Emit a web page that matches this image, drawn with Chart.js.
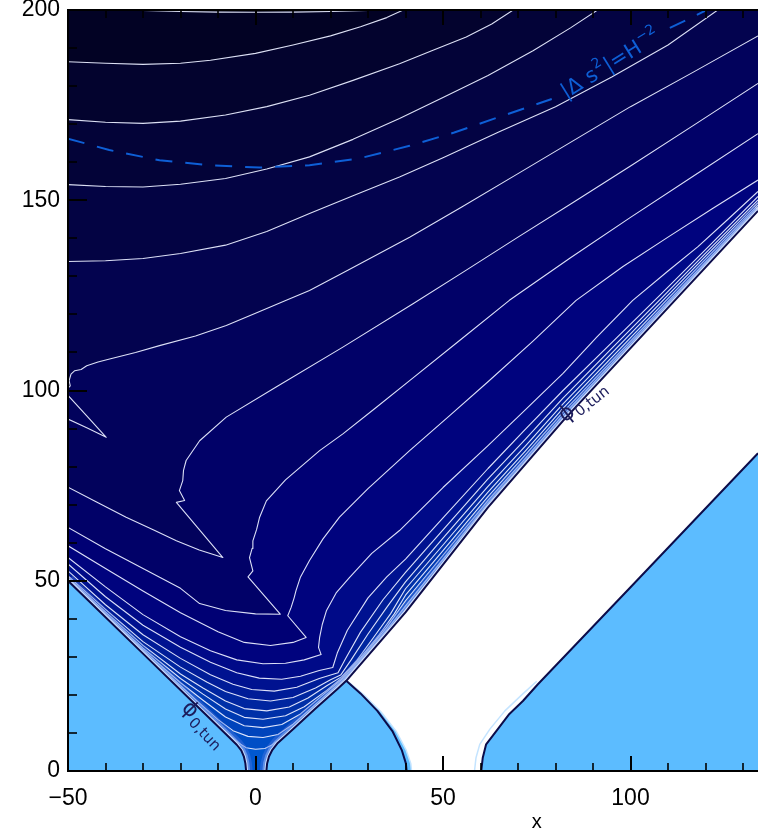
<!DOCTYPE html>
<html>
<head>
<meta charset="utf-8">
<script src="https://cdn.jsdelivr.net/npm/chart.js@4.4.1/dist/chart.umd.min.js"></script>
<style>
  html, body { margin: 0; padding: 0; background: #fff; }
</style>
</head>
<body>
<canvas id="contour" width="758" height="831"></canvas>
<script>
// ---------- axes ----------
const xMin = -50, xMax = 134, yMin = 0, yMax = 200;
const xMajorTicks = [-50, 0, 50, 100];
const xMinorTicks = [-40, -30, -20, -10, 10, 20, 30, 40, 60, 70, 80, 90, 110, 120, 130];
const yMajorTicks = [0, 50, 100, 150, 200];
const yMinorTicks = [10, 20, 30, 40, 60, 70, 80, 90, 110, 120, 130, 140, 160, 170, 180, 190];

// ---------- contour lines, [x, y] ----------
const c1 = [[-41,200.5],[-30,199.9],[-20,199.6],[-10,199.45],[0,199.4],[10,199.45],[20,199.6],[30,199.9],[41,200.5]];
const c2 = [[-50,186.4],[-40,186],[-30,185.7],[-20,186],[-12,186.8],[0,188.6],[10,190.8],[20,193.2],[28,195.6],[35,198],[40.5,200.5]];
const c3 = [[-50,171.2],[-40,170.5],[-30,170.2],[-20,170.8],[-8,172.4],[3,174.6],[14.4,177.6],[26,181.5],[38.4,185.9],[47,189.3],[56.2,192.9],[63,196.3],[69.5,200.5]];
const c4 = [[-50,154.1],[-40,153.6],[-30,153.5],[-20,154.2],[-8,155.7],[3,158.2],[14.4,161.4],[26,166],[38.4,171.5],[50,177],[62,182.8],[74,189.3],[84,195.3],[92,200.5]];
const c5 = [[-50,133.9],[-40,134.1],[-30,134.7],[-20,136],[-8,138.2],[3,141.8],[14.4,146.5],[26,151.2],[38.4,156.1],[50,161.2],[65,168],[80,174.6],[95,182.4],[110,190.8],[124,200.5]];
const c6 = [[-50,100.6],[-49.4,101.2],[-49.7,102.6],[-49.2,104.3],[-48.2,105.2],[-46.5,105.5],[-45,106.5],[-42,107.5],[-38.9,108.3],[-32,110],[-25.6,111.8],[-16,114.3],[-7.8,117.1],[0,120.3],[8.2,123.7],[14.4,126.3],[25,131.8],[41.1,140.3],[55,148.2],[70,157],[85,165.8],[100,174.6],[117,183.8],[134,193.2]];
const spike = [[-50,98.7],[-45,93.3],[-39.8,87.7],[-45,90.2],[-50,92.5]];
const c7 = [[-50,74.6],[-42,70.5],[-34.5,66.7],[-27,63.3],[-21.1,60.5],[-15,58.1],[-8.7,56.1],[-21.1,70.6],[-18.9,71.1],[-20.3,73.7],[-19.4,76.3],[-19.2,79],[-18.5,81.6],[-14.9,86.8],[-7.8,93],[5.5,100.9],[23.3,111.4],[42,122.8],[56,131.5],[70,140.3],[85,149.6],[100,159],[117,169.8],[134,180.7]];
const c8 = [[-50,64],[-40,58.4],[-30,53.2],[-20,48],[-14.9,44],[-8,42.2],[0,41.3],[6.6,41.2],[-2,51],[-0.7,52.6],[-1.6,56.1],[-0.9,58.5],[-0.7,60.5],[0.3,63.5],[1.1,66.7],[2.9,71],[8,76.5],[17.1,84.2],[23.3,88.6],[32,95.4],[41.1,102.6],[54,112.8],[67.7,123.7],[84,134.9],[100,145.5],[117,156.5],[134,167.5]];
const c9 = [[-50,59.2],[-40,53.2],[-30,47.3],[-20,41.6],[-10,36.6],[-3,33.8],[4,33],[10,33.8],[13.5,35.1],[8.6,40.8],[9.5,43],[10.3,45.5],[10.8,47.4],[12,51],[14.4,55.3],[18,61],[22.4,66.7],[30,74.2],[41.1,84.2],[52,93.6],[62,102.3],[74,113],[85.5,123.7],[98,132.6],[110,140.3],[122,147.9],[134,155.3]];
const c10 = [[-50,56.1],[-40,48.4],[-30,41.1],[-20,35.3],[-12,31.6],[-5,29.2],[2,28.2],[8,28.3],[13,29.2],[17.5,30.6],[16.8,32.5],[17.1,35.1],[17.8,38.5],[18.9,42.1],[21.5,46.8],[25.1,50.9],[31,57.2],[38.4,63.2],[50,74.5],[62,85.5],[72,95],[82,104.5],[91,114],[100.6,123.7],[110,131.4],[118,137.8],[126,145],[134,152.3]];
const c11 = [[-50,54.4],[-40,45.8],[-30,38.3],[-20,32.5],[-12,28.6],[-5,25.8],[1,24.4],[7,24.1],[12,24.9],[17,26.4],[20.6,27.2],[21.8,31],[24.5,37],[30,45.5],[35,51],[40,55.7],[50,66.5],[62,79.5],[72,89.85],[82,100],[95,112.6],[108,125.2],[121,138],[134,151]];
const c12 = [[-50,52.6],[-40,43.7],[-30,35.8],[-20,29.6],[-12,25.3],[-6,22.8],[-1,21.4],[5,21],[11,22],[17,24.3],[22,25.8],[24,29.5],[28,36.5],[34,45],[40,52.2],[50,63.4],[62,76.8],[72,87.25],[82,98],[95,111.1],[108,124],[121,137.1],[134,150.1]];
const c13 = [[-50,51.3],[-40,42.5],[-30,34],[-20,27.3],[-13,23.4],[-8,20.9],[-2,19],[4,18.4],[10,19.3],[16,21.8],[20,24],[22.7,25.2],[25.5,29.2],[30,36],[35,43],[40,49.7],[50,61.2],[62,74.8],[72,85.45],[82,96.5],[95,109.8],[108,123],[121,136.3],[134,149.4]];
const c14 = [[-50,50.8],[-40,41.8],[-30,33],[-20,25.5],[-14,21.8],[-8,18.4],[-3,16.4],[3,15.8],[9,16.8],[14,19.2],[19,22.4],[23,24.8],[27,29],[32,35.8],[36,41.3],[40,47.9],[50,59.4],[62,73.3],[72,84.15],[82,95.3],[95,108.7],[108,122.1],[121,135.5],[134,148.8]];
const c15 = [[-50,50.5],[-40,41.3],[-30,32.3],[-20,24.3],[-14,20.2],[-8,16.3],[-3,14.1],[2,13.6],[8,14.5],[13,16.9],[19,21.2],[23.2,24.6],[28,29.8],[33,35.8],[37,41.3],[40,46.2],[50,57.9],[62,72.1],[72,83.15],[82,94.3],[95,107.8],[108,121.3],[121,134.8],[134,148.3]];
const c16 = [[-50,50.3],[-40,40.95],[-30,31.8],[-20,23.2],[-14,18.6],[-8,14.2],[-3,11.9],[2,11.4],[7,12.2],[12,15],[18,20],[23.5,24.5],[29,30.5],[35,37.8],[40,44.7],[50,56.7],[62,71.1],[72,82.25],[82,93.5],[95,107.1],[108,120.7],[121,134.3],[134,147.9]];
const c17 = [[-50,50.15],[-40,40.7],[-30,31.3],[-20,22.4],[-15,17.9],[-10,13.5],[-6,10.6],[-2,9.1],[2,8.8],[6,9.6],[10,12.3],[16,17.5],[22,22.7],[23.8,24.3],[30,31.2],[35,37],[40,43.4],[50,55.6],[62,70.3],[72,81.5],[82,92.8],[95,106.5],[108,120.2],[121,133.9],[134,147.6]];
const c18 = [[-50,50.05],[-40,40.5],[-30,31],[-20,21.8],[-15,16.9],[-10,12.2],[-7,9.5],[-4.5,7.4],[-2.5,6.1],[0,5.7],[2.5,5.9],[4.5,6.9],[8,9.6],[15,15.9],[22,22.3],[24,24.1],[30,30.9],[35,36.5],[40,42.4],[50,54.8],[62,69.7],[72,81],[82,92.3],[95,106.05],[108,119.8],[121,133.57],[134,147.35]];
const contours = [c1, c2, c3, c4, c5, c6, c7, c8, c9, c10, c11, c12, c13, c14, c15, c16, c17, c18];

// dashed |Δs²| = H⁻² curve (left of its label, right of its label)
const dashLeft = [[-50,166.2],[-39,163.2],[-25.6,160.5],[-12.3,159.2],[1,158.6],[14.4,159.2],[27.7,161],[41.1,164.3],[53,167.8],[65,171.9],[79,176.6]];
const dashRight = [[110.5,195.3],[116,197.9],[123,201.3]];

// edges of the regions
const darkEdgeLeft = [[-50,50],[-30,30.84],[-15,16.47],[-8,9.8],[-5,6.9],[-3.8,5.4],[-3.1,3.8],[-2.7,2],[-2.5,0]];
const darkEdgeRight = [[2.9,0],[3.1,2],[3.6,3.8],[4.4,5.4],[5.8,7.2],[10,11],[16,16.4],[22,21.7],[24.2,23.7],[40,41.7],[62,69.3],[82,92],[108,119.6],[134,147.2]];
const lbLeftCurve = [[24.2,23.7],[28,20.4],[32.5,15.8],[36.5,10.5],[39,5.5],[40.1,2],[40.3,0]];
const lbLeftOuter = [[24.6,23.6],[28.8,20.1],[33.5,15.5],[37.6,10.3],[40.2,5.4],[41.4,2],[41.6,0]];
const rbCurve = [[60.2,0],[60.6,3.5],[61.5,7],[64.2,10.5],[67.7,15],[71.3,18.4],[75.3,22.8],[100,48.3],[134,83.5]];
const rbOuter = [[58.4,0],[58.8,3.5],[59.8,7],[62.5,11],[66.5,15.8],[71,20],[75,23.6]];

// band colours: base (next to the edge) then beyond c1 ... beyond c18
const baseColor = '#0058d0';
const bandColors = ['#02021c','#020224','#03032e','#030338','#030343','#03034f','#02025c','#010168','#000074',
                    '#00037e','#000a88','#001290','#001c98','#0026a0','#0030a8','#003ab2','#0044bc','#004ec6'];

const lightBlue = '#5cbcff';
const edgeNavy = '#0c0c4a';
const lineWhite = 'rgba(232,236,255,0.95)';
const dashBlue = '#0e5fd6';

// ---------- build datasets ----------
const toPt = ([x, y]) => ({x, y});
const sets = [];
function addFill(points, color) {
  sets.push({data: points.map(toPt), showLine: true, fill: 'shape', backgroundColor: color,
             borderColor: 'transparent', borderWidth: 0, pointRadius: 0, tension: 0});
}
function addLine(points, color, width, dash) {
  sets.push({data: points.map(toPt), showLine: true, fill: false, borderColor: color,
             borderWidth: width, borderDash: dash || [], pointRadius: 0, tension: 0,
             borderCapStyle: 'butt', borderJoinStyle: 'round'});
}
function closeRegion(line) {
  const first = line[0], last = line[line.length - 1];
  const tail = last[1] >= yMax ? [[last[0], 215]] : [[150, last[1]], [150, 215]];
  return [...line, ...tail, [-60, 215], [-60, first[1]]];
}

// dark area, then each band beyond a contour, nested
addFill([[-60,50], ...darkEdgeLeft, [-2.5,-5], [2.9,-5], ...darkEdgeRight, [150,147.2], [150,215], [-60,215]], baseColor);
for (let k = contours.length - 1; k >= 0; k--) addFill(closeRegion(contours[k]), bandColors[k]);

// contour lines
contours.forEach(c => addLine(c, lineWhite, 1.1));
addLine(spike, lineWhite, 1.1);
addLine(dashLeft, dashBlue, 2, [17, 13]);
addLine(dashRight, dashBlue, 2, [17, 13]);

// pale glow of the packed contours along the edge of the dark area
addLine(darkEdgeLeft, 'rgba(80,120,225,0.4)', 13);
addLine(darkEdgeRight, 'rgba(80,120,225,0.4)', 13);
addLine(darkEdgeLeft, 'rgba(150,180,245,0.55)', 8);
addLine(darkEdgeRight, 'rgba(150,180,245,0.55)', 8);
addLine(darkEdgeLeft, 'rgba(215,228,255,0.9)', 4);
addLine(darkEdgeRight, 'rgba(215,228,255,0.9)', 4);

// white gap, then light blue areas
addFill([...darkEdgeRight.slice(8), [150,147.2], [150,83.5], ...rbCurve.slice().reverse(), [60.2,-5], [41.6,-5], ...lbLeftOuter.slice().reverse()], '#ffffff');
addFill([[-60,50], ...darkEdgeLeft, [-2.5,-5], [2.9,-5], ...darkEdgeRight.slice(0, 9), ...lbLeftOuter, [41.6,-5], [-60,-5]], lightBlue);
addFill([[60.2,-5], ...rbCurve, [150,83.5], [150,-5]], lightBlue);

// edges
addLine(lbLeftOuter, '#c4e4ff', 1.5);
addLine(rbOuter, '#c4e4ff', 1.5);
addLine(darkEdgeLeft, edgeNavy, 2);
addLine(darkEdgeRight, edgeNavy, 2);
addLine(lbLeftCurve, edgeNavy, 2);
addLine(rbCurve, edgeNavy, 2);

sets.forEach((s, i) => { s.order = -i; });

// ---------- labels, ticks, frame ----------
const phiLabels = [
  {x: -17.47, y: 16.03, angle: 46, subDx: 8, subDy: 7},
  {x: 83.07, y: 93.82, angle: -38, subDx: 8, subDy: 6}
];
const dashLabel = {x: 82.8, y: 176.6, angle: -31.8};
const xTitle = {text: 'x', x: 75, py: 822};

const annotate = {
  id: 'annotate',
  afterDatasetsDraw(chart) {
    const {ctx, chartArea: a, scales: {x, y}} = chart;
    ctx.save();

    // phi labels
    ctx.fillStyle = '#1c1c5c';
    phiLabels.forEach(l => {
      ctx.save();
      ctx.translate(x.getPixelForValue(l.x), y.getPixelForValue(l.y));
      ctx.rotate(l.angle * Math.PI / 180);
      ctx.textBaseline = 'middle';
      ctx.textAlign = 'center';
      ctx.font = '22px "DejaVu Sans"';
      ctx.fillText('\u03D5', 0, 0);
      ctx.textAlign = 'left';
      ctx.font = '15px "DejaVu Sans"';
      ctx.fillText('0,tun', l.subDx, l.subDy);
      ctx.restore();
    });

    // dashed curve label
    ctx.save();
    ctx.translate(x.getPixelForValue(dashLabel.x), y.getPixelForValue(dashLabel.y));
    ctx.rotate(dashLabel.angle * Math.PI / 180);
    ctx.fillStyle = dashBlue;
    ctx.textBaseline = 'alphabetic';
    ctx.textAlign = 'left';
    const parts = [
      {t: '|\u0394', s: 21, dy: 0, gap: 7},
      {t: 's', s: 21, dy: 0, gap: 1},
      {t: '2', s: 14, dy: -10, gap: 1},
      {t: '|=H', s: 21, dy: 0, gap: 1},
      {t: '\u22122', s: 14, dy: -10, gap: 0}
    ];
    let cx = 0;
    parts.forEach(p => {
      ctx.font = p.s + 'px "DejaVu Sans"';
      ctx.fillText(p.t, cx, p.dy);
      cx += ctx.measureText(p.t).width + p.gap;
    });
    ctx.restore();

    // frame
    ctx.strokeStyle = '#000';
    ctx.lineWidth = 2;
    ctx.beginPath();
    ctx.moveTo(a.right + 2, a.top); ctx.lineTo(a.left, a.top); ctx.lineTo(a.left, a.bottom); ctx.lineTo(a.right + 2, a.bottom);
    ctx.stroke();

    // inward ticks
    function xTick(v, len, w) {
      const px = Math.round(x.getPixelForValue(v));
      ctx.lineWidth = w;
      ctx.beginPath();
      ctx.moveTo(px, a.bottom); ctx.lineTo(px, a.bottom - len);
      ctx.moveTo(px, a.top); ctx.lineTo(px, a.top + len);
      ctx.stroke();
    }
    function yTick(v, len, w) {
      const py = Math.round(y.getPixelForValue(v));
      ctx.lineWidth = w;
      ctx.beginPath();
      ctx.moveTo(a.left, py); ctx.lineTo(a.left + len, py);
      ctx.stroke();
    }
    xMajorTicks.forEach(v => xTick(v, 15, 2));
    xMinorTicks.forEach(v => xTick(v, 8, 1.6));
    yMajorTicks.forEach(v => yTick(v, 19, 2));
    yMinorTicks.forEach(v => yTick(v, 9, 1.6));

    // axis title (the source figure is cropped, so it sits right of centre)
    ctx.fillStyle = '#000';
    ctx.font = '20px "Liberation Sans"';
    ctx.textAlign = 'center';
    ctx.textBaseline = 'middle';
    ctx.fillText(xTitle.text, x.getPixelForValue(xTitle.x), xTitle.py);
    ctx.restore();
  }
};

const fmt = v => (v < 0 ? '\u2212' + Math.abs(v) : String(v));

Chart.defaults.font.family = '"Liberation Sans", Arial, sans-serif';

new Chart(document.getElementById('contour').getContext('2d'), {
  type: 'scatter',
  data: {datasets: sets},
  options: {
    responsive: false,
    devicePixelRatio: 1,
    animation: false,
    events: [],
    layout: {padding: {top: 10, left: 0, right: 0, bottom: 0}},
    plugins: {legend: {display: false}, tooltip: {enabled: false}},
    scales: {
      x: {
        type: 'linear', min: xMin, max: xMax,
        grid: {display: false}, border: {display: false},
        ticks: {color: '#000', font: {size: 23}, padding: 6, maxRotation: 0, autoSkip: false, callback: fmt},
        afterBuildTicks: s => { s.ticks = xMajorTicks.map(v => ({value: v})); },
        afterFit: s => { s.height = 60; s.paddingLeft = 0; s.paddingRight = 0; }
      },
      y: {
        type: 'linear', min: yMin, max: yMax,
        grid: {display: false}, border: {display: false},
        ticks: {color: '#000', font: {size: 23}, padding: 0, autoSkip: false, callback: fmt},
        afterBuildTicks: s => { s.ticks = yMajorTicks.map(v => ({value: v})); },
        afterFit: s => { s.width = 68; s.paddingTop = 0; s.paddingBottom = 0; }
      }
    }
  },
  plugins: [annotate]
});
</script>
</body>
</html>
